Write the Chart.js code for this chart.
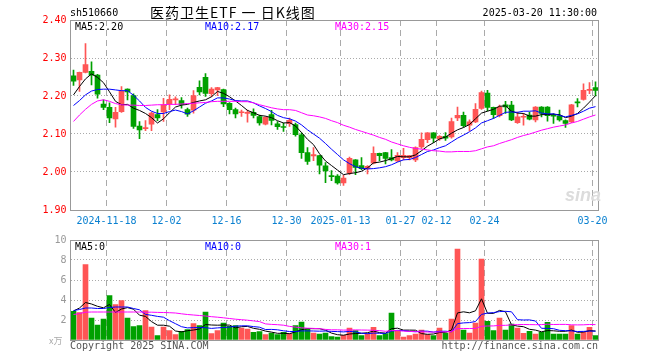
<!DOCTYPE html>
<html>
<head>
<meta charset="utf-8">
<script src="https://cdn.jsdelivr.net/npm/chart.js@4.4.1/dist/chart.umd.min.js"></script>
<style>
body{margin:0;background:#fff;}
#wrap{position:relative;width:660px;height:360px;font-family:"DejaVu Sans Mono",monospace;font-size:10px;}
canvas{position:absolute;left:0;}
.t{position:absolute;white-space:nowrap;line-height:12px;}
</style>
</head>
<body>
<div id="wrap">
<canvas id="kChart" width="660" height="232" style="top:0"></canvas>
<canvas id="volChart" width="660" height="130" style="top:230px"></canvas>
<div class="t" style="left:70px;top:7px;color:#000">sh510660</div>
<div class="t" style="left:150px;top:5px;line-height:15px;font-family:'Noto Sans CJK SC';font-size:14px;letter-spacing:1px;color:#000">医药卫生ETF 一 日K线图</div>
<div class="t" style="right:63px;top:7px;color:#000">2025-03-20 11:30:00</div>
<div class="t" style="left:75px;top:21px;color:#000">MA5:2.20</div>
<div class="t" style="left:205px;top:21px;color:#0000ff">MA10:2.17</div>
<div class="t" style="left:335px;top:21px;color:#ff00ff">MA30:2.15</div>
<div class="t" style="left:565px;top:186px;font-family:'Liberation Sans';font-size:18px;line-height:18px;font-weight:bold;font-style:italic;color:#dcdcdc">sina</div>
<div class="t" style="left:75px;top:241px;color:#000">MA5:0</div>
<div class="t" style="left:205px;top:241px;color:#0000ff">MA10:0</div>
<div class="t" style="left:335px;top:241px;color:#ff00ff">MA30:1</div>
<div class="t" style="left:49px;top:335px;color:#aaa;font-size:9px;font-family:'Noto Sans CJK SC'">x万</div>
<div class="t" style="left:70px;top:340px;color:#555">Copyright 2025 SINA.COM</div>
<div class="t" style="right:62px;top:340px;color:#555">http://finance.sina.com.cn</div>
</div>
<script>
const dates = ['2024-11-08','2024-11-11','2024-11-12','2024-11-13','2024-11-14','2024-11-15','2024-11-18','2024-11-19','2024-11-20','2024-11-21',
'2024-11-22','2024-11-25','2024-11-26','2024-11-27','2024-11-28','2024-11-29','2024-12-02','2024-12-03','2024-12-04','2024-12-05',
'2024-12-06','2024-12-09','2024-12-10','2024-12-11','2024-12-12','2024-12-13','2024-12-16','2024-12-17','2024-12-18','2024-12-19',
'2024-12-20','2024-12-23','2024-12-24','2024-12-25','2024-12-26','2024-12-27','2024-12-30','2024-12-31','2025-01-02','2025-01-03',
'2025-01-06','2025-01-07','2025-01-08','2025-01-09','2025-01-10','2025-01-13','2025-01-14','2025-01-15','2025-01-16','2025-01-17',
'2025-01-20','2025-01-21','2025-01-22','2025-01-23','2025-01-24','2025-01-27','2025-02-05','2025-02-06','2025-02-07','2025-02-10',
'2025-02-11','2025-02-12','2025-02-13','2025-02-14','2025-02-17','2025-02-18','2025-02-19','2025-02-20','2025-02-21','2025-02-24',
'2025-02-25','2025-02-26','2025-02-27','2025-02-28','2025-03-03','2025-03-04','2025-03-05','2025-03-06','2025-03-07','2025-03-10',
'2025-03-11','2025-03-12','2025-03-13','2025-03-14','2025-03-17','2025-03-18','2025-03-19','2025-03-20'];

const tickDates = ['2024-11-18','2024-12-02','2024-12-16','2024-12-30','2025-01-13','2025-01-27','2025-02-12','2025-02-24','2025-03-20'];
const tickText = ['2024-11-18','12-02','12-16','12-30','2025-01-13','01-27','02-12','02-24','03-20'];

const open = [2.253,2.242,2.262,2.265,2.255,2.179,2.170,2.140,2.159,2.218,
2.201,2.121,2.114,2.126,2.151,2.158,2.179,2.190,2.188,2.164,
2.163,2.223,2.249,2.206,2.216,2.217,2.181,2.164,2.156,2.154,
2.157,2.146,2.126,2.151,2.127,2.119,2.127,2.125,2.098,2.051,
2.042,2.043,2.016,1.990,1.989,1.971,1.997,2.032,2.017,2.009,
2.023,2.049,2.051,2.038,2.029,2.038,2.038,2.032,2.066,2.085,
2.103,2.087,2.094,2.092,2.142,2.149,2.123,2.132,2.167,2.208,
2.170,2.148,2.177,2.176,2.130,2.144,2.150,2.137,2.171,2.171,
2.149,2.148,2.135,2.132,2.183,2.191,2.215,2.222];

const high = [2.268,2.263,2.338,2.290,2.257,2.190,2.182,2.170,2.225,2.219,
2.206,2.133,2.135,2.158,2.164,2.194,2.203,2.198,2.196,2.168,
2.214,2.240,2.259,2.222,2.223,2.218,2.183,2.168,2.163,2.163,
2.166,2.150,2.146,2.162,2.133,2.129,2.142,2.129,2.103,2.064,
2.064,2.044,2.025,2.004,1.993,1.991,2.039,2.033,2.038,2.017,
2.066,2.050,2.052,2.059,2.051,2.062,2.044,2.066,2.103,2.104,
2.104,2.096,2.104,2.142,2.171,2.158,2.137,2.180,2.213,2.215,
2.171,2.176,2.186,2.186,2.158,2.154,2.158,2.172,2.172,2.172,
2.154,2.163,2.137,2.178,2.193,2.232,2.235,2.237];

const low = [2.228,2.212,2.261,2.229,2.194,2.164,2.130,2.118,2.157,2.190,
2.115,2.088,2.109,2.109,2.135,2.133,2.164,2.177,2.168,2.146,
2.155,2.203,2.199,2.198,2.201,2.172,2.153,2.142,2.146,2.131,
2.142,2.123,2.124,2.124,2.112,2.107,2.120,2.094,2.036,2.020,
2.030,1.995,1.972,1.977,1.968,1.965,1.993,1.993,2.006,1.995,
2.021,2.029,2.021,2.029,2.027,2.032,2.032,2.027,2.062,2.077,
2.077,2.083,2.083,2.089,2.135,2.118,2.108,2.130,2.165,2.161,
2.141,2.145,2.154,2.135,2.128,2.123,2.137,2.132,2.145,2.134,
2.128,2.134,2.117,2.130,2.171,2.189,2.206,2.200];

const close = [2.239,2.262,2.283,2.255,2.205,2.170,2.142,2.157,2.212,2.211,
2.120,2.111,2.116,2.155,2.142,2.177,2.191,2.192,2.177,2.152,
2.201,2.211,2.207,2.218,2.222,2.179,2.164,2.153,2.158,2.157,
2.149,2.129,2.144,2.136,2.119,2.117,2.136,2.098,2.051,2.028,
2.046,2.018,2.003,1.988,1.971,1.984,2.036,2.012,2.009,2.015,
2.049,2.043,2.036,2.032,2.044,2.044,2.043,2.064,2.086,2.103,
2.089,2.094,2.089,2.133,2.149,2.122,2.132,2.165,2.209,2.170,
2.151,2.171,2.171,2.137,2.145,2.145,2.139,2.171,2.154,2.148,
2.147,2.137,2.128,2.177,2.182,2.215,2.217,2.215];

const ma5 = [2.203,2.225,2.245,2.258,2.249,2.235,2.211,2.186,2.177,2.178,
2.168,2.162,2.154,2.143,2.129,2.140,2.156,2.171,2.176,2.178,
2.183,2.187,2.190,2.198,2.212,2.207,2.198,2.187,2.175,2.162,
2.156,2.149,2.147,2.143,2.135,2.129,2.130,2.121,2.104,2.086,
2.072,2.048,2.029,2.017,2.005,1.993,1.996,1.998,2.002,2.011,
2.024,2.026,2.030,2.035,2.041,2.040,2.040,2.045,2.056,2.068,
2.077,2.087,2.092,2.102,2.111,2.117,2.125,2.140,2.155,2.160,
2.165,2.173,2.174,2.160,2.155,2.154,2.147,2.147,2.151,2.151,
2.152,2.151,2.143,2.147,2.154,2.168,2.184,2.201];

const ma10 = [2.175,2.188,2.203,2.213,2.217,2.218,2.218,2.216,2.214,2.214,
2.202,2.187,2.170,2.160,2.154,2.154,2.159,2.163,2.159,2.153,
2.161,2.171,2.181,2.187,2.195,2.195,2.192,2.188,2.187,2.187,
2.182,2.174,2.167,2.159,2.149,2.143,2.140,2.134,2.124,2.111,
2.100,2.089,2.075,2.060,2.046,2.032,2.022,2.014,2.010,2.008,
2.009,2.011,2.014,2.019,2.026,2.032,2.033,2.038,2.046,2.054,
2.058,2.064,2.069,2.079,2.089,2.097,2.106,2.116,2.129,2.135,
2.141,2.149,2.157,2.158,2.157,2.160,2.160,2.161,2.155,2.153,
2.153,2.149,2.145,2.149,2.153,2.160,2.168,2.172];

const ma30 = [2.133,2.150,2.165,2.178,2.187,2.190,2.186,2.180,2.177,2.176,
2.176,2.175,2.175,2.176,2.177,2.177,2.178,2.178,2.179,2.180,
2.181,2.182,2.183,2.185,2.186,2.186,2.186,2.186,2.185,2.185,
2.182,2.177,2.173,2.169,2.166,2.164,2.164,2.162,2.156,2.150,
2.148,2.145,2.141,2.135,2.130,2.123,2.118,2.112,2.107,2.102,
2.097,2.091,2.086,2.079,2.074,2.069,2.065,2.062,2.060,2.058,
2.056,2.055,2.053,2.053,2.054,2.054,2.054,2.056,2.061,2.066,
2.069,2.075,2.080,2.085,2.091,2.096,2.100,2.105,2.110,2.114,
2.118,2.121,2.124,2.129,2.133,2.139,2.145,2.150];

const vol = [2.87,2.75,7.53,2.2,1.5,2.1,4.43,3.53,3.93,2.2,
1.33,1.43,2.93,1.3,0.43,1.3,0.93,0.53,0.87,1.03,
1.63,1.43,2.8,0.63,0.93,1.7,1.37,1.43,1.2,1.1,
0.77,0.83,0.53,0.7,0.53,0.77,0.63,1.43,1.8,1.1,
0.7,0.6,0.7,0.33,0.3,0.47,1.2,0.93,0.43,0.63,
1.27,0.43,0.63,2.7,0.87,0.3,0.43,0.6,1.0,0.53,
0.43,1.2,0.7,2.1,9.1,1.0,0.7,1.7,8.1,1.87,
0.93,2.2,1.0,1.6,1.2,0.67,0.87,0.6,0.77,1.77,
0.6,0.6,0.6,1.43,0.6,0.77,1.27,0.43];

const vma5 = [2.9,3.2,3.75,3.6,3.37,3.22,3.55,2.75,3.10,3.24,
3.08,2.48,2.36,1.84,1.48,1.48,1.38,0.90,0.81,0.93,
1.00,1.10,1.55,1.50,1.48,1.50,1.49,1.21,1.33,1.36,
1.17,1.07,0.89,0.79,0.67,0.67,0.63,0.81,1.03,1.15,
1.13,1.13,0.98,0.69,0.53,0.48,0.60,0.65,0.67,0.73,
0.89,0.74,0.68,1.13,1.18,0.99,0.99,0.98,0.64,0.57,
0.60,0.75,0.77,0.99,2.71,2.82,2.72,2.92,4.12,2.67,
2.66,2.96,2.82,1.52,1.39,1.33,1.07,0.99,0.82,0.94,
0.92,0.87,0.87,1.00,0.77,0.80,0.93,0.90];

const vma10 = [2.95,3.05,3.2,3.2,3.15,3.15,3.25,3.3,3.3,3.30,
3.15,3.02,2.56,2.47,2.36,2.28,1.93,1.63,1.33,1.21,
1.24,1.24,1.23,1.16,1.21,1.25,1.29,1.38,1.42,1.42,
1.34,1.28,1.05,1.06,1.02,0.92,0.85,0.85,0.91,0.91,
0.90,0.88,0.90,0.86,0.84,0.81,0.86,0.81,0.68,0.63,
0.69,0.67,0.66,0.90,0.96,0.94,0.86,0.83,0.89,0.88,
0.79,0.87,0.88,0.82,1.64,1.71,1.74,1.85,2.56,2.69,
2.74,2.84,2.87,2.82,2.03,2.00,2.01,1.90,1.17,1.16,
1.13,0.97,0.93,0.91,0.85,0.86,0.90,0.88];

const vma30 = [2.55,2.65,2.78,2.8,2.8,2.8,2.8,2.8,2.8,2.8,
2.8,2.8,2.78,2.78,2.76,2.75,2.73,2.7,2.62,2.55,
2.5,2.45,2.4,2.33,2.28,2.22,2.15,2.08,2.03,1.98,
1.91,1.84,1.61,1.56,1.53,1.48,1.36,1.29,1.22,1.18,
1.16,1.13,1.06,1.02,1.02,0.99,1.00,1.01,1.00,0.99,
0.97,0.94,0.87,0.94,0.94,0.89,0.86,0.83,0.82,0.80,
0.79,0.81,0.81,0.86,1.14,1.15,1.15,1.16,1.37,1.40,
1.41,1.46,1.47,1.51,1.54,1.55,1.54,1.53,1.54,1.58,
1.55,1.56,1.56,1.52,1.51,1.52,1.55,1.54];

const upColor = '#ff5555';
const downColor = '#00a000';
const barColors = close.map((c, i) => c >= open[i] ? upColor : downColor);

Chart.defaults.font.family = "'DejaVu Sans Mono', monospace";
Chart.defaults.font.size = 10;

// box around each plot area
const frame = {
  id: 'frame',
  afterDraw(chart) {
    const a = chart.chartArea;
    const ctx = chart.ctx;
    ctx.save();
    ctx.strokeStyle = '#999';
    ctx.lineWidth = 1;
    ctx.strokeRect(Math.floor(a.left) + 0.5, Math.floor(a.top) + 0.5, Math.round(a.right - a.left), Math.round(a.bottom - a.top));
    ctx.restore();
  }
};

const markIdx = tickDates.map(d => dates.indexOf(d));

function xScale(showTicks) {
  return {
    type: 'category',
    offset: true,
    grid: {
      offset: true,
      drawTicks: false,
      color: c => markIdx.includes(c.index) ? '#aaa' : 'rgba(0,0,0,0)'
    },
    border: { display: false, dash: [6, 4] },
    ticks: {
      display: showTicks,
      autoSkip: false,
      maxRotation: 0,
      minRotation: 0,
      padding: 5,
      labelOffset: -3,
      color: '#0a80d0',
      callback: (v, i) => {
        const k = markIdx.indexOf(i);
        return k >= 0 ? tickText[k] : '';
      }
    },
    afterFit: s => { s.height = showTicks ? 22 : 0; }
  };
}

function lineSet(data, color) {
  return { type: 'line', data: data, borderColor: color, borderWidth: 1, pointRadius: 0, tension: 0, order: 0 };
}

new Chart(document.getElementById('kChart'), {
  type: 'bar',
  data: {
    labels: dates,
    datasets: [
      lineSet(ma30, '#ff00ff'),
      lineSet(ma10, '#0000ff'),
      lineSet(ma5, '#000000'),
      { data: low.map((l, i) => [l, high[i]]), backgroundColor: barColors, barThickness: 1, grouped: false, order: 2 },
      { data: open.map((o, i) => [o, close[i]]), backgroundColor: barColors, barThickness: 5, minBarLength: 1, grouped: false, order: 1 }
    ]
  },
  options: {
    responsive: false,
    animation: false,
    events: [],
    layout: { padding: { left: 0, right: 61.5, top: 20, bottom: 0 } },
    plugins: { legend: { display: false }, tooltip: { enabled: false } },
    scales: {
      x: xScale(true),
      y: {
        min: 1.9,
        max: 2.4,
        ticks: { stepSize: 0.1, color: '#ff0000', padding: 4, callback: v => v.toFixed(2) },
        grid: { drawTicks: false, color: c => (c.index > 0 && c.index < 5) ? '#aaa' : 'rgba(0,0,0,0)' },
        border: { display: false, dash: [1, 2] },
        afterFit: s => { s.width = 70.5; }
      }
    }
  },
  plugins: [frame]
});

new Chart(document.getElementById('volChart'), {
  type: 'bar',
  data: {
    labels: dates,
    datasets: [
      lineSet(vma30, '#ff00ff'),
      lineSet(vma10, '#0000ff'),
      lineSet(vma5, '#000000'),
      { data: vol, backgroundColor: barColors, barThickness: 5, order: 1 }
    ]
  },
  options: {
    responsive: false,
    animation: false,
    events: [],
    layout: { padding: { left: 0, right: 61.5, top: 10, bottom: 20 } },
    plugins: { legend: { display: false }, tooltip: { enabled: false } },
    scales: {
      x: xScale(false),
      y: {
        min: 0,
        max: 10,
        ticks: { stepSize: 2, color: '#999', padding: 4, callback: v => v === 0 ? '' : v },
        grid: { drawTicks: false, color: c => (c.index > 0 && c.index < 5) ? '#aaa' : 'rgba(0,0,0,0)' },
        border: { display: false, dash: [1, 2] },
        afterFit: s => { s.width = 70.5; }
      }
    }
  },
  plugins: [frame]
});
</script>
</body>
</html>
